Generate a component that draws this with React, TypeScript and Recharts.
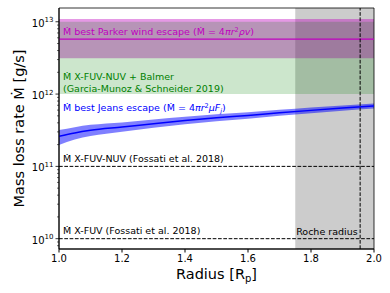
import React from "react";
import {
  ComposedChart,
  XAxis,
  YAxis,
  Line,
  Area,
  ReferenceArea,
  ReferenceLine,
  Label,
} from "recharts";

// radius grid [R_p] and the Jeans escape curve [g/s]
const radius = [1.0, 1.05, 1.1, 1.2, 1.3, 1.4, 1.5, 1.6, 1.7, 1.8, 1.9, 2.0];
const jeansMid = [2.6e11, 2.9e11, 3.15e11, 3.5e11, 3.9e11, 4.3e11, 4.7e11, 5.05e11, 5.5e11, 5.95e11, 6.4e11, 6.85e11];
const jeansLow = [1.97e11, 2.36e11, 2.63e11, 3.02e11, 3.42e11, 3.82e11, 4.21e11, 4.55e11, 5.0e11, 5.43e11, 5.88e11, 6.32e11];
const jeansHigh = [3.18e11, 3.49e11, 3.75e11, 4.06e11, 4.45e11, 4.85e11, 5.25e11, 5.6e11, 6.05e11, 6.52e11, 6.97e11, 7.43e11];

// horizontal estimates
const parkerLow = 3.12e12;
const parkerBest = 5.77e12;
const parkerHigh = 1.09e13;
const balmerLow = 1e12;
const balmerHigh = 1e13;
const fossatiNuv = 1e11;
const fossatiFuv = 1e10;
const rocheRadius = 1.956;
const rocheZone = [1.75, 2.0];

const xTicks = [1.0, 1.2, 1.4, 1.6, 1.8, 2.0];
const yMajor = [1e10, 1e11, 1e12, 1e13];
const yMinor = [8e9, 9e9].concat(
  [1e10, 1e11, 1e12].flatMap((d) => [2, 3, 4, 5, 6, 7, 8, 9].map((m) => m * d))
);
const yTicks = [...yMinor, ...yMajor].sort((a, b) => a - b);
const yDomain = [7.2e9, 1.55e13];

const data = radius.map((r, i) => ({
  r,
  mid: jeansMid[i],
  band: [jeansLow[i], jeansHigh[i]],
}));

const FONT = "DejaVu Sans, sans-serif";
const NOTE = 9.5;

const YTick = (props: any) => {
  const { x, y, payload } = props;
  const v = payload.value;
  const major = yMajor.includes(v);
  const exp = Math.round(Math.log10(v));
  return (
    <g>
      <line x1={x} x2={x - (major ? 3.5 : 2)} y1={y} y2={y} stroke="#000" strokeWidth={major ? 0.8 : 0.6} />
      {major && (
        <text x={x - 5.5} y={y + 5} textAnchor="end" fontSize={10} fontFamily={FONT} fill="#000">
          10
          <tspan dy={-4.5} fontSize={7}>
            {exp}
          </tspan>
        </text>
      )}
    </g>
  );
};

const note =
  (color: string, lines: { t: React.ReactNode; dx: number; dy: number; fromBottom?: boolean }[], anchor = "start") =>
  (p: any) => {
    const vb = p.viewBox;
    return (
      <g>
        {lines.map((l, i) => (
          <text
            key={i}
            x={vb.x + l.dx}
            y={(l.fromBottom ? vb.y + vb.height : vb.y) + l.dy}
            fill={color}
            fontSize={NOTE}
            fontFamily={FONT}
            textAnchor={anchor as any}
          >
            {l.t}
          </text>
        ))}
      </g>
    );
  };

const dashed = "3.7 1.6";

export default function App() {
  return (
    <div style={{ position: "absolute", left: 0, top: 0, background: "#fff" }}>
      <ComposedChart width={390} height={293} data={data} margin={{ top: 8, right: 16, bottom: 0, left: 0 }}>
        <XAxis
          dataKey="r"
          type="number"
          domain={[1, 2]}
          ticks={xTicks}
          interval={0}
          tickFormatter={(v: number) => v.toFixed(1)}
          tickSize={3.5}
          tickMargin={2}
          height={44}
          stroke="#000"
          tick={{ fill: "#000", fontSize: 10, fontFamily: FONT }}
          allowDataOverflow
        >
          <Label
            content={(p: any) => {
              const vb = p.viewBox;
              return (
                <text x={vb.x + vb.width / 2} y={279} textAnchor="middle" fontSize={14.5} fontFamily={FONT} fill="#000">
                  Radius [R
                  <tspan dy={3} fontSize={10}>
                    p
                  </tspan>
                  <tspan dy={-3}>]</tspan>
                </text>
              );
            }}
          />
        </XAxis>
        <YAxis
          type="number"
          scale="log"
          domain={yDomain}
          allowDataOverflow
          ticks={yTicks}
          interval={0}
          tickSize={0}
          tickMargin={0}
          tickLine={false}
          width={59}
          stroke="#000"
          tick={<YTick />}
        >
          <Label
            content={() => (
              <text
                x={23.5}
                y={128.5}
                transform="rotate(-90, 23.5, 128.5)"
                textAnchor="middle"
                fontSize={14.5}
                fontFamily={FONT}
                fill="#000"
              >
                Mass loss rate Ṁ [g/s]
              </text>
            )}
          />
        </YAxis>

        <ReferenceArea x1={rocheZone[0]} x2={rocheZone[1]} y1={yDomain[0]} y2={yDomain[1]} fill="#808080" fillOpacity={0.4} stroke="none" ifOverflow="visible" />
        <ReferenceArea x1={1} x2={2} y1={parkerLow} y2={parkerHigh} fill="#bf00bf" fillOpacity={0.4} stroke="none" />
        <ReferenceArea
          x1={1}
          x2={2}
          y1={balmerLow}
          y2={balmerHigh}
          fill="#008000"
          fillOpacity={0.2}
          stroke="none"
          label={note("#008000", [
            { t: "Ṁ X-FUV-NUV + Balmer", dx: 4, dy: -14, fromBottom: true },
            { t: "(Garcia-Munoz & Schneider 2019)", dx: 4, dy: -2.5, fromBottom: true },
          ])}
        />
        <ReferenceArea
          x1={1}
          x2={2}
          y1={balmerLow}
          y2={balmerHigh}
          fill="none"
          stroke="none"
          label={note("#0000ff", [
            {
              t: (
                <>
                  Ṁ best Jeans escape (Ṁ = 4<tspan fontStyle="italic">πr</tspan>
                  <tspan dy={-3.5} fontSize={6.5}>2</tspan>
                  <tspan dy={3.5} fontStyle="italic">μF</tspan>
                  <tspan dy={2} fontSize={6.5} fontStyle="italic">j</tspan>
                  <tspan dy={-2}>)</tspan>
                </>
              ),
              dx: 4,
              dy: 17,
              fromBottom: true,
            },
          ])}
        />
        <ReferenceLine
          y={parkerBest}
          stroke="#bf00bf"
          strokeWidth={1.2}
          label={note("#bf00bf", [
            {
              t: (
                <>
                  Ṁ best Parker wind escape (Ṁ = 4<tspan fontStyle="italic">πr</tspan>
                  <tspan dy={-3.5} fontSize={6.5}>2</tspan>
                  <tspan dy={3.5} fontStyle="italic">ρv</tspan>)
                </>
              ),
              dx: 4,
              dy: -4,
            },
          ])}
        />

        <Area
          dataKey="band"
          type="monotone"
          stroke="none"
          fill="#0000ff"
          fillOpacity={0.5}
          isAnimationActive={false}
          dot={false}
          activeDot={false}
        />
        <Line dataKey="mid" type="monotone" stroke="#0000ff" strokeWidth={1.5} dot={false} activeDot={false} isAnimationActive={false} />

        <ReferenceLine
          y={fossatiNuv}
          stroke="#000"
          strokeDasharray={dashed}
          label={note("#000", [{ t: "Ṁ X-FUV-NUV (Fossati et al. 2018)", dx: 4, dy: -4 }])}
        />
        <ReferenceLine
          y={fossatiFuv}
          stroke="#000"
          strokeDasharray={dashed}
          label={note("#000", [{ t: "Ṁ X-FUV (Fossati et al. 2018)", dx: 4, dy: -4.4 }])}
        />
        <ReferenceLine
          x={rocheRadius}
          stroke="#000"
          strokeDasharray={dashed}
          label={note("#000", [{ t: "Roche radius", dx: -2.5, dy: -14.5, fromBottom: true }], "end")}
        />

        <ReferenceArea x1={1} x2={2} y1={yDomain[0]} y2={yDomain[1]} fill="none" stroke="#000" strokeWidth={0.8} ifOverflow="visible" />
      </ComposedChart>
    </div>
  );
}
